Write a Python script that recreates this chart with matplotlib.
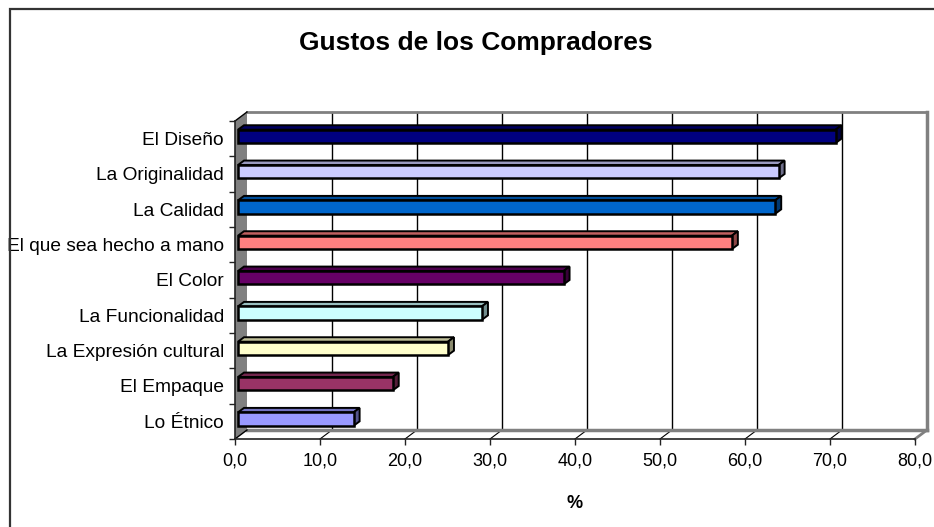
import matplotlib.pyplot as plt
from matplotlib.patches import Polygon, Rectangle
import numpy as np

plt.rcParams['font.family'] = ['Liberation Sans', 'DejaVu Sans']

categorias = ['Lo Étnico', 'El Empaque', 'La Expresión cultural', 'La Funcionalidad',
              'El Color', 'El que sea hecho a mano', 'La Calidad', 'La Originalidad',
              'El Diseño']
porcentajes = [13.6, 18.2, 24.7, 28.7, 38.3, 58.1, 63.2, 63.6, 70.3]
colores = ['#9999FF', '#993366', '#FFFFCC', '#CCFFFF', '#660066',
           '#FF8080', '#0066CC', '#CCCCFF', '#000080']
xticks = np.arange(0, 81, 10)

# profundidad del efecto 3D (unidades de datos)
DX, DY = 1.41, 0.255          # pared del fondo
BX0, BY0 = 0.35, 0.064        # cara frontal de la barra
BX1, BY1 = 1.06, 0.19         # cara trasera de la barra
H = 0.38


def oscurecer(c, f):
    c = c.lstrip('#')
    rgb = [int(c[i:i + 2], 16) / 255 for i in (0, 2, 4)]
    return tuple(v * f for v in rgb)


fig = plt.figure(figsize=(9.34, 5.27), dpi=100)
ax = fig.add_axes([235 / 934, 1 - 439 / 527, 680 / 934, 318 / 527])
ax.set_xlim(0, 80)
ax.set_ylim(-0.5, 8.5)
ax.patch.set_visible(False)

# marco exterior
fig.patches.append(Rectangle((10 / 934, -0.05), 1.2, 1 - 9 / 527 + 0.05,
                             transform=fig.transFigure, fill=False,
                             edgecolor='#333333', lw=1.6))

ymin, ymax = -0.5, 8.5
kw = dict(clip_on=False)

# pared lateral gris
ax.add_patch(Polygon([(0, ymin), (0, ymax), (DX, ymax + DY), (DX, ymin + DY)],
                     facecolor='#808080', edgecolor='none', zorder=1, **kw))
ax.plot([0, DX], [ymax, ymax + DY], color='k', lw=1, zorder=2, **kw)
ax.plot([0, DX], [ymin, ymin + DY], color='k', lw=1, zorder=2, **kw)

# lineas de division en el fondo y en el piso
for x in xticks[1:-1]:
    ax.plot([x + DX, x + DX], [ymin + DY, ymax + DY], color='k', lw=1, zorder=1, **kw)
    ax.plot([x, x + DX], [ymin, ymin + DY], color='k', lw=0.8, zorder=1, **kw)

# bordes de la pared del fondo
ax.plot([DX, 80 + DX], [ymax + DY, ymax + DY], color='#808080', lw=2, zorder=1, **kw)
ax.plot([80 + DX, 80 + DX], [ymin + DY, ymax + DY], color='#808080', lw=2.5, zorder=1, **kw)
ax.plot([DX, 80 + DX], [ymin + DY, ymin + DY], color='#808080', lw=2.5, zorder=1, **kw)
ax.plot([80, 80 + DX], [ymin, ymin + DY], color='#808080', lw=2, zorder=1, **kw)

# barras
ypos = np.arange(len(categorias))
ax.barh(ypos + BY0, porcentajes, height=H, left=BX0, color=colores,
        edgecolor='k', lw=1.8, zorder=4)
for y, v, c in zip(ypos, porcentajes, colores):
    top = y + H / 2
    bot = y - H / 2
    ax.add_patch(Polygon([(BX0, top + BY0), (v + BX0, top + BY0),
                          (v + BX1, top + BY1), (BX1, top + BY1)],
                         facecolor=oscurecer(c, 0.75), edgecolor='k', lw=1.4,
                         joinstyle='miter', zorder=3))
    ax.add_patch(Polygon([(v + BX0, bot + BY0), (v + BX0, top + BY0),
                          (v + BX1, top + BY1), (v + BX1, bot + BY1)],
                         facecolor=oscurecer(c, 0.55), edgecolor='k', lw=1.4,
                         joinstyle='miter', zorder=3))

# ejes
for s in ['top', 'right']:
    ax.spines[s].set_visible(False)
for s in ['left', 'bottom']:
    ax.spines[s].set_color('#222222')
    ax.spines[s].set_linewidth(1.2)
    ax.spines[s].set_zorder(2)

ax.set_xticks(xticks)
ax.set_xticklabels(['{:.1f}'.format(t).replace('.', ',') for t in xticks], fontsize=13)
ax.tick_params(axis='x', length=4, width=1, color='#222222', pad=6)

ax.set_yticks(ypos)
ax.set_yticklabels(categorias, fontsize=13.8)
ax.set_yticks(np.arange(-0.5, 9, 1), minor=True)
ax.tick_params(axis='y', which='major', length=0, pad=8)
ax.tick_params(axis='y', which='minor', length=4, width=1, color='#222222')

ax.set_xlabel('%', fontsize=13, fontweight='bold', labelpad=18)
fig.text(476 / 934, 1 - 43 / 527, 'Gustos de los Compradores', ha='center',
         va='center', fontsize=19, fontweight='bold')

fig.savefig('out.png', dpi=100)
